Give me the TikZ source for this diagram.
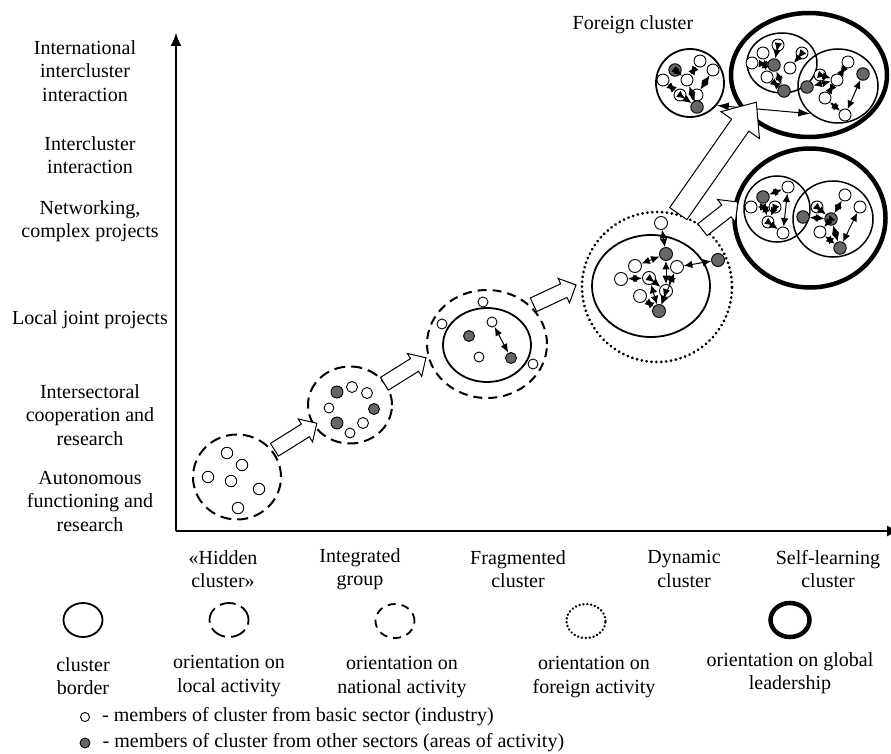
\documentclass[tikz,border=0pt]{standalone}
\usepackage{fontspec}
\setmainfont{Liberation Serif}
\usetikzlibrary{arrows.meta,positioning,shapes.geometric,shapes.arrows}
\newcommand\lblfont{\fontsize{20}{23.5}\selectfont}

\begin{document}
\begin{tikzpicture}[x=1pt,y=-1pt,>={Latex[length=8.5pt,width=7.5pt]},node distance=56pt,
    basic member/.style={circle,draw,fill=white,line width=0.9pt,inner sep=0pt,minimum size=#1},
    basic member/.default=12pt,
    other member/.style={basic member=#1,fill=black!60},
    other member/.default=12.5pt,
    border ring/.style={ellipse,draw,line width=1.8pt,inner sep=0pt},
    local ring/.style={border ring,line width=2pt,dash pattern=on 11pt off 6pt},
    national ring/.style={border ring,line width=2pt,dash pattern=on 9pt off 6pt},
    foreign ring/.style={border ring,line width=3pt,line cap=round,dash pattern=on 0.1pt off 4.8pt},
    global ring/.style={border ring,line width=4.5pt},
    block arrow/.style={single arrow,draw,fill=white,line width=1pt,inner xsep=0pt,anchor=tail},
    axis label/.style={align=center,font=\lblfont,inner sep=0pt},
    link/.style={<->,line width=1pt}]

  \useasboundingbox (0,0) rectangle (891,754);

  % axes
  \coordinate (o) at (176,531);
  \coordinate (ytop) at (176,33);
  \coordinate (xend) at (900,531);
  \draw[-{Latex[length=13pt,width=11pt]},line width=1.3pt] (o) -- (ytop);
  \draw[-{Latex[length=13pt,width=11pt]},line width=1.3pt] (o) -- (xend);

  % levels of interaction
  \node[axis label] (lv6) at (85,71)  {International\\intercluster\\interaction};
  \node[axis label] (lv5) at (90,155) {Intercluster\\interaction};
  \node[axis label] (lv4) at (90,221) {Networking,\\complex projects};
  \node[axis label] (lv3) at (90,320) {Local joint projects};
  \node[axis label] (lv2) at (90,415) {Intersectoral\\cooperation and\\research};
  \node[axis label] (lv1) at (90,501) {Autonomous\\functioning and\\research};

  % stages
  \node[axis label] (st1) at (223,569) {«Hidden\\cluster»};
  \node[axis label] (st2) at (360,569) {Integrated\\group};
  \node[axis label] (st3) at (518,569) {Fragmented\\cluster};
  \node[axis label] (st4) at (684,569) {Dynamic\\cluster};
  \node[axis label] (st5) at (828,569) {Self-learning\\cluster};

  % hidden cluster
  \node[local ring,minimum width=88pt,minimum height=85pt] (hid) at (237,477) {};
  \node[basic member=11.5pt] (h1) at (227,453) {};
  \node[basic member=11.5pt] (h2) at (242,465) {};
  \node[basic member=11.5pt] (h3) at (208,477) {};
  \node[basic member=11.5pt] (h4) at (231,481) {};
  \node[basic member=11.5pt] (h5) at (259,489) {};
  \node[basic member=11.5pt] (h6) at (238,508) {};

  % integrated group
  \node[local ring,minimum width=84pt,minimum height=77pt] (intg) at (350,405) {};
  \node[other member=12pt] (g1) at (337,392) {};
  \node[basic member=11pt] (g2) at (352,387) {};
  \node[basic member=11pt] (g3) at (367,393) {};
  \node[basic member=10pt] (g4) at (329,408) {};
  \node[other member=11pt] (g5) at (374,409) {};
  \node[other member=12pt] (g6) at (337,423) {};
  \node[basic member=11pt] (g7) at (363,423) {};
  \node[basic member=10pt] (g8) at (350,433) {};

  % fragmented cluster
  \node[national ring,minimum width=120pt,minimum height=108pt] (frg) at (487,344) {};
  \node[border ring,minimum width=88pt,minimum height=74pt] (frgin) at (487,345) {};
  \node[basic member=10pt] (f1) at (483,302) {};
  \node[basic member=10pt] (f2) at (442,324) {};
  \node[basic member=10pt] (f3) at (492,322) {};
  \node[other member=11pt] (f4) at (469,336) {};
  \node[basic member=10pt] (f5) at (479,357) {};
  \node[other member=11pt] (f6) at (511,358) {};
  \node[basic member=10pt] (f7) at (533,364) {};
  \path[link,>={Latex[length=9pt,width=7pt]}] (f3) edge (f6);

  % dynamic cluster
  \node[foreign ring,minimum size=150pt] (dyn) at (657,287) {};
  \node[border ring,minimum width=118pt,minimum height=102pt] (dynin) at (651,286) {};
  \node[basic member=13pt] (d1)  at (661,223) {};
  \node[other member=13pt] (d2)  at (666,254) {};
  \node[other member=13pt] (d3)  at (718,260) {};
  \node[basic member=13pt] (d4)  at (635,266) {};
  \node[basic member=13pt] (d5)  at (677,267) {};
  \node[basic member=13pt] (d6)  at (621,279) {};
  \node[basic member=13pt] (d7)  at (649,278) {};
  \node[basic member=13pt] (d8)  at (666,291) {};
  \node[basic member=13pt] (d9)  at (640,296) {};
  \node[other member=13pt] (d10) at (659,311) {};
  \path[link]
    (d1) edge (d2)
    (d6) edge (d7)
    (d3) edge (d5)
    (d4) edge (d2)
    (d2) edge (d8)
    (d7) edge (d8)
    (d9) edge (d10)
    (d5) edge (d8)
    (d8) edge (d10)
    (d7) edge (d10)
    (d5) edge (d10);

  % self-learning cluster
  \node[global ring,minimum width=151pt,minimum height=139pt] (slc) at (810,218) {};
  \node[border ring,line width=1.5pt,minimum size=66pt] (slcl) at (777,209) {};
  \node[border ring,line width=1.5pt,minimum width=80pt,minimum height=76pt] (slcr) at (833,219) {};
  \node[basic member] (s1) at (788,187) {};
  \node[other member] (s2) at (763,197) {};
  \node[basic member] (s4) at (751,207) {};
  \node[basic member] (s5) at (775,207) {};
  \node[basic member] (s6) at (768,222) {};
  \node[basic member] (s7) at (783,233) {};
  \node[basic member] (s8) at (845,195) {};
  \node[basic member] (s9) at (817,207) {};
  \node[basic member] (s10) at (860,207) {};
  \node[other member] (s11) at (803,217) {};
  \node[other member] (s12) at (831,219) {};
  \node[basic member] (s13) at (820,232) {};
  \node[other member] (s14) at (840,248) {};
  \path[link]
    (s2) edge (s1)
    (s4) edge (s5)
    (s5) edge (s6)
    (s1) edge (s7)
    (s6) edge (s7)
    (s2) edge (s6)
    (s11) edge (s12)
    (s12) edge (s8)
    (s12) edge (s13)
    (s10) edge (s14)
    (s13) edge (s14)
    (s9) edge (s12)
    (s12) edge (s14);

  % foreign cluster
  \node[axis label] (fcl) at (633,25) {Foreign cluster};
  \node[border ring,minimum size=68pt] (fsmall) at (690,83) {};
  \node[global ring,minimum width=156pt,minimum height=124pt] (fbig) at (809,75) {};
  \node[border ring,line width=1.5pt,minimum width=70pt,minimum height=60pt] (fleft) at (782,63) {};
  \node[border ring,line width=1.5pt,minimum width=80pt,minimum height=74pt] (fright) at (838,86) {};
  \node[other member] (x1) at (675,70) {};
  \node[basic member] (x2) at (700,61) {};
  \node[basic member] (x3) at (713,70) {};
  \node[basic member] (x4) at (663,80) {};
  \node[basic member] (x5) at (687,80) {};
  \node[basic member] (x6) at (680,95) {};
  \node[basic member] (x7) at (697,95) {};
  \node[other member] (x8) at (697,107) {};
  \node[basic member] (y1) at (763,53) {};
  \node[basic member] (y2) at (778,45) {};
  \node[basic member] (y3) at (802,53) {};
  \node[basic member] (y4) at (752,63) {};
  \node[other member] (y5) at (774,65) {};
  \node[basic member] (y6) at (767,77) {};
  \node[basic member] (y7) at (790,68) {};
  \node[other member] (y8) at (784,91) {};
  \node[basic member] (z1) at (848,62) {};
  \node[basic member] (z2) at (820,75) {};
  \node[basic member] (z3) at (837,80) {};
  \node[other member] (z4) at (863,74) {};
  \node[other member] (z5) at (807,87) {};
  \node[basic member] (z6) at (825,98) {};
  \node[basic member] (z7) at (845,115) {};
  \path[link]
    (x1) edge (x5)
    (x2) edge (x5)
    (x4) edge (x6)
    (x5) edge (x8)
    (x3) edge (x7)
    (x6) edge (x8)
    (y4) edge (y5)
    (y2) edge (y5)
    (y5) edge (y8)
    (y6) edge (y8)
    (y3) edge (y7)
    (y1) edge (y6)
    (z5) edge (z3)
    (z2) edge (z3)
    (z1) edge (z3)
    (z4) edge (z7)
    (z3) edge (z6)
    (z6) edge (z7);
  \draw[<->,line width=1pt,>={Latex[length=12pt,width=8pt]}] (fsmall.-40) -- (fright.-135);

  % development arrows
  \node[block arrow,minimum height=50pt,minimum width=26pt,inner ysep=7pt,single arrow head extend=6pt,rotate=32] (ar1) at (274,450) {};
  \node[block arrow,minimum height=49pt,minimum width=26pt,inner ysep=7pt,single arrow head extend=6pt,rotate=32] (ar2) at (384,384) {};
  \node[block arrow,minimum height=47pt,minimum width=26pt,inner ysep=7pt,single arrow head extend=6pt,rotate=25] (ar3) at (533,305) {};
  \node[block arrow,minimum height=136pt,minimum width=46pt,inner ysep=10pt,single arrow head extend=13pt,single arrow tip angle=80,rotate=55] (ar4) at (678,214) {};
  \node[block arrow,minimum height=45pt,minimum width=28pt,inner ysep=7pt,single arrow head extend=7pt,rotate=38] (ar5) at (702,230) {};

  % legend
  \node[border ring,minimum width=39pt,minimum height=34pt] (lg1) at (83,620) {};
  \node[border ring,dash pattern=on 16pt off 6pt,minimum width=39pt,minimum height=34pt] (lg2) at (229,620) {};
  \node[border ring,dash pattern=on 8pt off 6pt,minimum width=39pt,minimum height=34pt] (lg3) at (395,621) {};
  \node[foreign ring,line width=2.6pt,dash pattern=on 0.1pt off 3.8pt,minimum width=39pt,minimum height=34pt] (lg4) at (586,621) {};
  \node[global ring,minimum width=39pt,minimum height=34pt] (lg5) at (790,620) {};
  \node[axis label] (lt1) [below of=lg1] {cluster\\border};
  \node[axis label] (lt2) [below of=lg2] {orientation on\\local activity};
  \node[axis label] (lt3) [below of=lg3,xshift=7pt] {orientation on\\national activity};
  \node[axis label] (lt4) [below of=lg4,xshift=8pt] {orientation on\\foreign activity};
  \node[axis label] (lt5) [below of=lg5,yshift=3pt] {orientation on global\\leadership};
  \node[basic member=9pt] (b1) at (85,717) {};
  \node[other member=10pt] (b2) at (85,743) {};
  \node[axis label,anchor=west] (bt1) [right=12pt of b1] {- members of cluster from basic sector (industry)};
  \node[axis label,anchor=west] (bt2) [right=12pt of b2] {- members of cluster from other sectors (areas of activity)};
\end{tikzpicture}
\end{document}
